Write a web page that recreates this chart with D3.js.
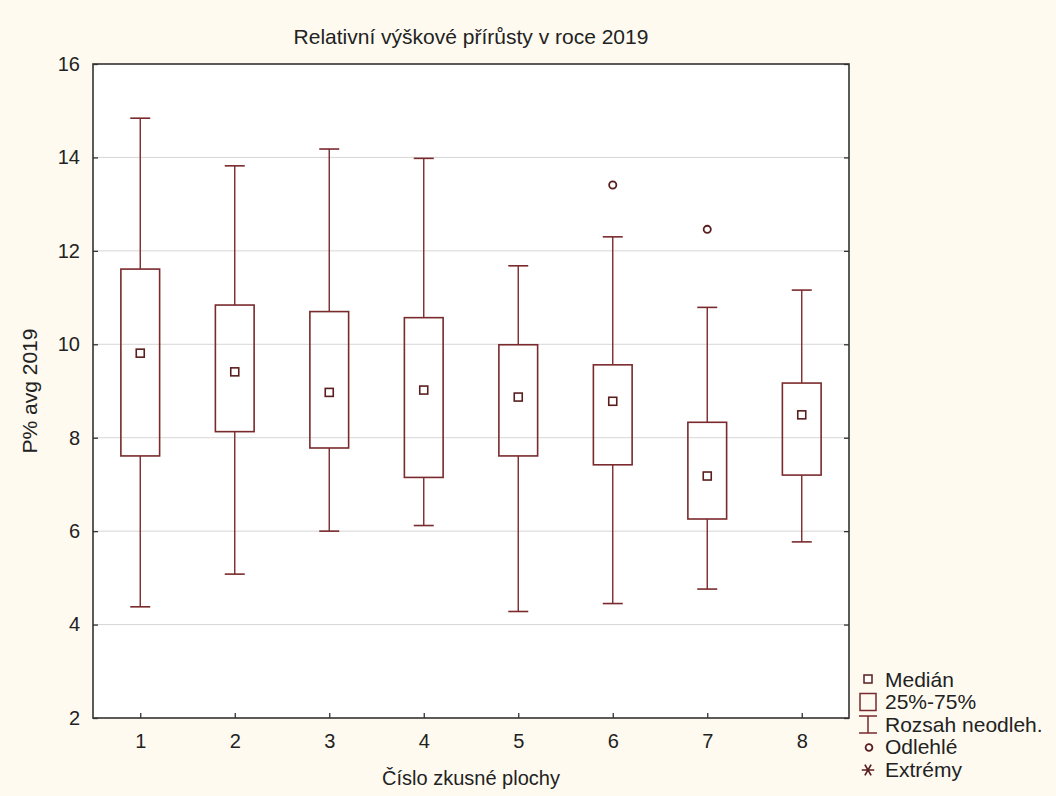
<!DOCTYPE html>
<html>
<head>
<meta charset="utf-8">
<script src="https://cdn.jsdelivr.net/npm/d3@7"></script>
<style>
	body { margin: 0; background: #fefaf0; }
	svg { display: block; }
	text { font-family: 'Liberation Sans', Arial, sans-serif; fill: #222; }
</style>
</head>
<body>
<svg id="chart"></svg>
<script>
// hodnoty
const plots = [1, 2, 3, 4, 5, 6, 7, 8];
const whiskerLow = [4.38, 5.08, 6.0, 6.12, 4.28, 4.45, 4.76, 5.77];
const q1 = [7.61, 8.13, 7.78, 7.15, 7.61, 7.42, 6.26, 7.20];
const median = [9.81, 9.41, 8.97, 9.02, 8.87, 8.78, 7.18, 8.49];
const q3 = [11.61, 10.84, 10.70, 10.57, 9.99, 9.56, 8.33, 9.17];
const whiskerHigh = [14.84, 13.82, 14.18, 13.98, 11.68, 12.30, 10.79, 11.16];
const outliers = [{ plot: 6, value: 13.41 }, { plot: 7, value: 12.46 }];
const yTicks = [2, 4, 6, 8, 10, 12, 14, 16];

const legendItems = ['Medián', '25%-75%', 'Rozsah neodleh.', 'Odlehlé', 'Extrémy'];

const config = {
	width: 1056,
	height: 796,
	margin: { top: 64, right: 207, bottom: 78, left: 93 },
	boxColor: '#7a2a2c',
	markColor: '#5a1e1e',
	frame: '#333',
	grid: '#d6d6d6'
};

const svg = d3.select('#chart')
	.attr('width', config.width)
	.attr('height', config.height);

const m = config.margin;
const x = d3.scaleLinear()
	.domain([0.5, 8.5])
	.range([m.left, config.width - m.right]);
const y = d3.scaleLinear()
	.domain([2, 16])
	.range([config.height - m.bottom, m.top]);

const step = x(2) - x(1);
const boxW = step * 0.41;
const capW = 20;

// plocha grafu
svg.append('rect')
	.attr('x', x(0.5)).attr('y', y(16))
	.attr('width', x(8.5) - x(0.5)).attr('height', y(2) - y(16))
	.attr('fill', '#fff');

// mřížka
svg.append('g')
	.selectAll('line')
	.data(yTicks.slice(1, -1))
	.enter()
	.append('line')
	.attr('x1', x(0.5)).attr('x2', x(8.5))
	.attr('y1', d => y(d)).attr('y2', d => y(d))
	.attr('stroke', config.grid)
	.attr('stroke-width', 1);

// osy
const yAxis = d3.axisLeft(y).tickValues(yTicks).tickSize(-5).tickPadding(13);
const yAxisR = d3.axisRight(y).tickValues(yTicks).tickSize(-5).tickFormat('');
const xAxis = d3.axisBottom(x).tickValues(plots).tickSize(-5).tickPadding(16);

function styleAxis(g) {
	g.select('.domain').remove();
	g.selectAll('.tick line').attr('stroke', config.frame).attr('stroke-width', 1.3);
	g.selectAll('.tick text')
		.style('font-family', "'Liberation Sans', Arial, sans-serif")
		.style('font-size', '20px')
		.attr('fill', '#222');
}

svg.append('g').attr('transform', `translate(${x(0.5)},0)`).call(yAxis).call(styleAxis);
svg.append('g').attr('transform', `translate(${x(8.5)},0)`).call(yAxisR).call(styleAxis);
svg.append('g').attr('transform', `translate(0,${y(2)})`).call(xAxis).call(styleAxis);

svg.append('rect')
	.attr('x', x(0.5)).attr('y', y(16))
	.attr('width', x(8.5) - x(0.5)).attr('height', y(2) - y(16))
	.attr('fill', 'none')
	.attr('stroke', config.frame)
	.attr('stroke-width', 1.6);

// krabicové grafy
const boxes = plots.map((p, i) => ({
	plot: p, lo: whiskerLow[i], q1: q1[i], med: median[i], q3: q3[i], hi: whiskerHigh[i]
}));

const g = svg.append('g');
const box = g.selectAll('g.box')
	.data(boxes)
	.enter()
	.append('g')
	.attr('class', 'box');

box.append('line')
	.attr('x1', d => x(d.plot)).attr('x2', d => x(d.plot))
	.attr('y1', d => y(d.hi)).attr('y2', d => y(d.q3))
	.attr('stroke', config.boxColor).attr('stroke-width', 1.4);
box.append('line')
	.attr('x1', d => x(d.plot)).attr('x2', d => x(d.plot))
	.attr('y1', d => y(d.q1)).attr('y2', d => y(d.lo))
	.attr('stroke', config.boxColor).attr('stroke-width', 1.4);
box.append('line')
	.attr('x1', d => x(d.plot) - capW / 2).attr('x2', d => x(d.plot) + capW / 2)
	.attr('y1', d => y(d.hi)).attr('y2', d => y(d.hi))
	.attr('stroke', config.boxColor).attr('stroke-width', 1.6);
box.append('line')
	.attr('x1', d => x(d.plot) - capW / 2).attr('x2', d => x(d.plot) + capW / 2)
	.attr('y1', d => y(d.lo)).attr('y2', d => y(d.lo))
	.attr('stroke', config.boxColor).attr('stroke-width', 1.6);
box.append('rect')
	.attr('x', d => x(d.plot) - boxW / 2)
	.attr('y', d => y(d.q3))
	.attr('width', boxW)
	.attr('height', d => y(d.q1) - y(d.q3))
	.attr('fill', 'none')
	.attr('stroke', config.boxColor).attr('stroke-width', 1.6);
box.append('rect')
	.attr('x', d => x(d.plot) - 4)
	.attr('y', d => y(d.med) - 4)
	.attr('width', 8).attr('height', 8)
	.attr('fill', '#fff')
	.attr('stroke', config.markColor).attr('stroke-width', 1.6);

g.selectAll('circle.out')
	.data(outliers)
	.enter()
	.append('circle')
	.attr('class', 'out')
	.attr('cx', d => x(d.plot)).attr('cy', d => y(d.value))
	.attr('r', 3.6)
	.attr('fill', '#fff')
	.attr('stroke', config.markColor).attr('stroke-width', 1.8);

// texty
svg.append('text')
	.attr('x', (x(0.5) + x(8.5)) / 2).attr('y', 44)
	.attr('text-anchor', 'middle')
	.style('font-size', '21px')
	.text('Relativní výškové přírůsty v roce 2019');

svg.append('text')
	.attr('x', (x(0.5) + x(8.5)) / 2).attr('y', 785)
	.attr('text-anchor', 'middle')
	.style('font-size', '20px')
	.text('Číslo zkusné plochy');

svg.append('text')
	.attr('transform', `translate(37,${(y(2) + y(16)) / 2}) rotate(-90)`)
	.attr('text-anchor', 'middle')
	.style('font-size', '21px')
	.text('P% avg 2019');

// legenda
const lx = 868, ly0 = 679, lh = 22.5;
const legend = svg.append('g');
legend.selectAll('text')
	.data(legendItems)
	.enter()
	.append('text')
	.attr('x', lx + 17)
	.attr('y', (d, i) => ly0 + i * lh)
	.attr('dy', '0.36em')
	.style('font-size', '21px')
	.text(d => d);

legend.append('rect')
	.attr('x', lx - 4).attr('y', ly0 - 4).attr('width', 8).attr('height', 8)
	.attr('fill', '#fff').attr('stroke', config.markColor).attr('stroke-width', 1.5);
legend.append('rect')
	.attr('x', lx - 8).attr('y', ly0 + lh - 8).attr('width', 16).attr('height', 17)
	.attr('fill', 'none').attr('stroke', config.boxColor).attr('stroke-width', 1.5);
legend.append('path')
	.attr('d', `M${lx - 9},${ly0 + 2 * lh - 8}H${lx + 9}M${lx},${ly0 + 2 * lh - 8}V${ly0 + 2 * lh + 9}M${lx - 9},${ly0 + 2 * lh + 9}H${lx + 9}`)
	.attr('fill', 'none').attr('stroke', config.boxColor).attr('stroke-width', 1.5);
legend.append('circle')
	.attr('cx', lx + 1).attr('cy', ly0 + 3 * lh + 1).attr('r', 3.4)
	.attr('fill', '#fff').attr('stroke', config.markColor).attr('stroke-width', 1.8);
legend.append('path')
	.attr('d', d3.symbol(d3.symbolAsterisk, 110)())
	.attr('transform', `translate(${lx},${ly0 + 4 * lh + 1}) rotate(90)`)
	.attr('fill', 'none').attr('stroke', config.markColor).attr('stroke-width', 1.7);
</script>
</body>
</html>
